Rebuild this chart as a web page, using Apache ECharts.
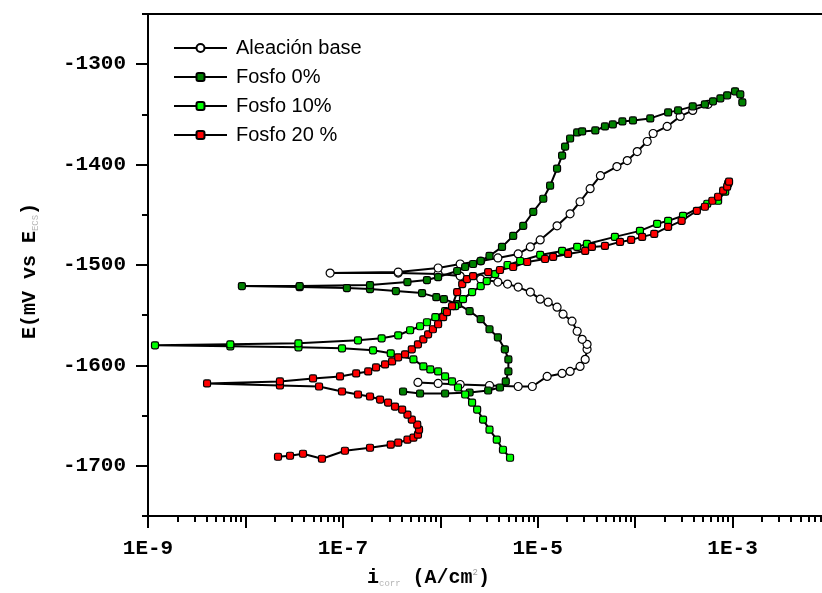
<!DOCTYPE html>
<html>
<head>
<meta charset="utf-8">
<script src="https://cdn.jsdelivr.net/npm/echarts@6/dist/echarts.min.js"></script>
<style>
  html, body { margin: 0; padding: 0; background: #fff; }
  #chart { width: 822px; height: 593px; }
</style>
</head>
<body>
<div id="chart"></div>
<script>
// Potentiodynamic polarization curves: current density i (A/cm2) vs potential E (mV)

const seriesNames = ['Aleación base', 'Fosfo 0%', 'Fosfo 10%', 'Fosfo 20 %'];

// Aleación base
const baseI = [5.9e-7, 9.5e-7, 1.6e-6, 3.2e-6, 6.3e-6, 8.8e-6, 1.25e-5, 1.78e-5, 2.15e-5, 2.72e-5,
  3.07e-5, 3.21e-5, 3.21e-5, 2.86e-5, 2.54e-5, 2.25e-5, 1.82e-5, 1.58e-5, 1.28e-5, 1.06e-5,
  8.4e-6, 6.3e-6, 4.9e-6, 3.9e-6, 2.6e-6, 1.6e-6, 9.5e-7, 3.7e-7, 7.4e-8, 3.7e-7,
  9.5e-7, 1.6e-6, 2.6e-6, 3.9e-6, 6.3e-6, 8.4e-6, 1.06e-5, 1.58e-5, 2.15e-5, 2.72e-5,
  3.45e-5, 4.4e-5, 6.5e-5, 8.3e-5, 1.05e-4, 1.33e-4, 1.53e-4, 2.13e-4, 2.9e-4, 3.9e-4, 5.6e-4];
const baseE = [-1617, -1618, -1619, -1620, -1621, -1621, -1611, -1608, -1606, -1601,
  -1594, -1584, -1579, -1574, -1566, -1556, -1549, -1542, -1537, -1534,
  -1527, -1522, -1519, -1517, -1514, -1511, -1509, -1508, -1508, -1507,
  -1503, -1499, -1496, -1493, -1489, -1482, -1475, -1461, -1449, -1437,
  -1424, -1411, -1402, -1396, -1387, -1377, -1369, -1362, -1352, -1346, -1340];

// Fosfo 0%
const p0I = [4.15e-7, 6.2e-7, 1.12e-6, 2.0e-6, 3.1e-6, 4.1e-6, 4.7e-6, 5.0e-6, 5.0e-6, 4.6e-6,
  3.9e-6, 3.2e-6, 2.6e-6, 2.0e-6, 1.52e-6, 1.09e-6, 9.1e-7, 6.5e-7, 3.5e-7, 1.9e-7,
  1.1e-7, 3.6e-8, 9.2e-9, 3.6e-8, 1.9e-7, 4.6e-7, 7.3e-7, 9.5e-7, 1.49e-6, 1.8e-6,
  2.17e-6, 2.6e-6, 3.2e-6, 4.3e-6, 5.6e-6, 7.1e-6, 9.0e-6, 1.14e-5, 1.34e-5, 1.58e-5,
  1.78e-5, 1.91e-5, 2.15e-5, 2.54e-5, 2.86e-5, 3.9e-5, 4.9e-5, 5.9e-5, 7.4e-5, 9.5e-5,
  1.43e-4, 2.18e-4, 2.76e-4, 3.9e-4, 5.2e-4, 6.3e-4, 7.5e-4, 8.8e-4, 1.06e-3, 1.2e-3, 1.26e-3];
const p0E = [-1626, -1628, -1628, -1627, -1625, -1622, -1616, -1606, -1594, -1584,
  -1572, -1564, -1554, -1546, -1539, -1534, -1532, -1528, -1526, -1524,
  -1523, -1522, -1521, -1521, -1520, -1517, -1515, -1512, -1506, -1502,
  -1499, -1496, -1491, -1482, -1471, -1461, -1447, -1434, -1421, -1404,
  -1391, -1382, -1374, -1368, -1367, -1366, -1362, -1360, -1357, -1356,
  -1354, -1348, -1346, -1342, -1340, -1337, -1334, -1331, -1327, -1330, -1338];

// Fosfo 10%
const p10I = [5.2e-6, 4.4e-6, 3.8e-6, 3.2e-6, 2.75e-6, 2.39e-6, 2.12e-6, 1.8e-6, 1.52e-6, 1.32e-6,
  1.12e-6, 9.5e-7, 7.9e-7, 6.7e-7, 5.3e-7, 3.1e-7, 2.04e-7, 9.8e-8, 3.5e-8, 7.0e-9,
  1.18e-9, 7.0e-9, 3.5e-8, 1.43e-7, 2.5e-7, 3.7e-7, 4.9e-7, 6.2e-7, 7.3e-7, 8.9e-7,
  1.12e-6, 1.42e-6, 1.71e-6, 2.12e-6, 2.6e-6, 3.0e-6, 3.66e-6, 4.9e-6, 6.6e-6, 1.06e-5,
  1.78e-5, 2.54e-5, 3.2e-5, 6.2e-5, 1.12e-4, 1.68e-4, 2.18e-4, 3.1e-4, 5.5e-4, 7.1e-4,
  8.4e-4, 9.0e-4];
const p10E = [-1692, -1684, -1674, -1664, -1654, -1644, -1637, -1629, -1622, -1616,
  -1611, -1606, -1604, -1601, -1594, -1588, -1585, -1583, -1582, -1581,
  -1580, -1579, -1578, -1575, -1573, -1570, -1565, -1561, -1557, -1552,
  -1546, -1541, -1534, -1527, -1521, -1516, -1509, -1500, -1496, -1490,
  -1486, -1482, -1479, -1472, -1466, -1459, -1456, -1451, -1439, -1436,
  -1427, -1419];

// Fosfo 20 %
const p20I = [2.16e-8, 2.87e-8, 3.9e-8, 6.1e-8, 1.05e-7, 1.9e-7, 3.1e-7, 3.7e-7, 4.6e-7, 5.3e-7,
  5.9e-7, 6.05e-7, 5.8e-7, 5.1e-7, 4.6e-7, 4.06e-7, 3.43e-7, 2.91e-7, 2.41e-7, 1.9e-7,
  1.43e-7, 9.8e-8, 5.7e-8, 2.26e-8, 4.04e-9, 2.26e-8, 4.94e-8, 9.35e-8, 1.37e-7, 1.82e-7,
  2.19e-7, 2.71e-7, 3.2e-7, 3.7e-7, 4.35e-7, 5.1e-7, 5.9e-7, 6.7e-7, 7.5e-7, 8.4e-7,
  9.5e-7, 1.07e-6, 1.17e-6, 1.32e-6, 1.49e-6, 1.68e-6, 1.88e-6, 2.17e-6, 3.1e-6, 4.1e-6,
  5.6e-6, 7.8e-6, 1.19e-5, 1.44e-5, 2.05e-5, 3.07e-5, 3.6e-5, 4.9e-5, 7.0e-5, 9.1e-5,
  1.18e-4, 1.57e-4, 2.18e-4, 3.0e-4, 4.3e-4, 5.2e-4, 6.2e-4, 7.1e-4, 8.0e-4, 8.8e-4, 9.2e-4];
const p20E = [-1691, -1690, -1688, -1693, -1685, -1682, -1679, -1677, -1674, -1672,
  -1669, -1664, -1659, -1654, -1649, -1644, -1641, -1637, -1634, -1631,
  -1629, -1626, -1621, -1620, -1618, -1616, -1613, -1611, -1608, -1606,
  -1602, -1599, -1596, -1592, -1589, -1584, -1579, -1574, -1569, -1564,
  -1559, -1552, -1547, -1541, -1527, -1519, -1514, -1511, -1507, -1505,
  -1502, -1497, -1494, -1492, -1489, -1486, -1482, -1481, -1477, -1475,
  -1472, -1469, -1462, -1456, -1446, -1442, -1436, -1432, -1426, -1422, -1417];

// Axis ticks and labels
const xLabelExponents = [-9, -7, -5, -3];
const xLabelTexts = ['1E-9', '1E-7', '1E-5', '1E-3'];
const yMajorTicks = [-1700, -1600, -1500, -1400, -1300];

// minor decade ticks (2..9 x 10^n), expressed as exponents
const xMinorTicks = [];
for (let n = -9; n <= -3; n++) {
  for (let k = 2; k <= 9; k++) xMinorTicks.push(n + Math.log10(k));
}

const zip = (xs, ys) => xs.map((v, i) => [v, ys[i]]);

const tickFont = { fontFamily: 'Liberation Mono', fontWeight: 'bold', fontSize: 21, color: '#000' };
const black2 = { color: '#000', width: 2 };

function curve(name, xs, ys, fill, symbol, size) {
  return {
    name, type: 'line', data: zip(xs, ys),
    xAxisIndex: 0, yAxisIndex: 0,
    symbol, symbolSize: size, showSymbol: true,
    lineStyle: { color: '#000', width: 2 },
    itemStyle: { color: fill, borderColor: '#000', borderWidth: 1.2 },
    emphasis: { disabled: true },
    silent: true
  };
}

const chart = echarts.init(document.getElementById('chart'), null, { renderer: 'canvas' });

chart.setOption({
  animation: false,
  backgroundColor: '#fff',
  grid: {
    left: 148, top: 14, right: -8, bottom: 77,
    outerBoundsMode: 'none', containLabel: false,
    show: true, borderColor: '#000', borderWidth: 2
  },
  legend: {
    data: seriesNames,
    orient: 'vertical', left: 173, top: 38, padding: 0,
    itemWidth: 53, itemHeight: 10, itemGap: 9,
    textStyle: { fontFamily: 'Liberation Sans', fontSize: 20, color: '#000', padding: [0, 0, 0, 4] },
    selectedMode: false
  },
  xAxis: [
    {
      type: 'log', logBase: 10, min: 1e-9, max: 1e-2, splitNumber: 7,
      position: 'bottom',
      axisLine: { lineStyle: black2 },
      axisTick: { length: 12, lineStyle: black2 },
      axisLabel: {
        margin: 22, ...tickFont,
        formatter: v => {
          const e = Math.round(Math.log10(v));
          const idx = xLabelExponents.indexOf(e);
          return idx >= 0 ? xLabelTexts[idx] : '';
        }
      },
      splitLine: { show: false }
    },
    {
      type: 'value', min: -9, max: -2, position: 'bottom',
      axisLine: { show: false },
      axisTick: { customValues: xMinorTicks, length: 6, lineStyle: black2 },
      axisLabel: { show: false },
      splitLine: { show: false }
    }
  ],
  yAxis: [
    {
      type: 'value', min: -1750, max: -1250, interval: 50,
      axisLine: { show: true, lineStyle: black2 },
      axisTick: { show: true, length: 6, lineStyle: black2 },
      axisLabel: { margin: 22, ...tickFont, formatter: v => (v % 100 === 0 ? String(v) : '') },
      splitLine: { show: false }
    },
    {
      type: 'value', min: -1750, max: -1250, position: 'left',
      axisLine: { show: false },
      axisTick: { show: true, customValues: yMajorTicks, length: 12, lineStyle: black2 },
      axisLabel: { show: false },
      splitLine: { show: false }
    }
  ],
  graphic: [
    {
      type: 'text', x: 30, y: 271, rotation: Math.PI / 2,
      style: {
        text: '{t|E(mV vs E}{s|ECS}{t|)}',
        align: 'center', verticalAlign: 'middle',
        rich: {
          t: { fontFamily: 'Liberation Mono', fontWeight: 'bold', fontSize: 20, fill: '#000' },
          s: { fontFamily: 'Liberation Mono', fontSize: 9, fill: '#b5b5b5', verticalAlign: 'bottom' }
        }
      }
    },
    {
      type: 'text', x: 367, y: 578,
      style: {
        text: '{t|i}{s|corr}{t| (A/cm}{p|2}{t|)}',
        align: 'left', verticalAlign: 'middle',
        rich: {
          t: { fontFamily: 'Liberation Mono', fontWeight: 'bold', fontSize: 20, fill: '#000' },
          s: { fontFamily: 'Liberation Mono', fontSize: 9, fill: '#b5b5b5', verticalAlign: 'bottom' },
          p: { fontFamily: 'Liberation Mono', fontSize: 9, fill: '#9a9a9a', verticalAlign: 'top' }
        }
      }
    }
  ],
  series: [
    curve(seriesNames[0], baseI, baseE, '#ffffff', 'circle', 8),
    curve(seriesNames[1], p0I, p0E, '#008000', 'roundRect', 7),
    curve(seriesNames[2], p10I, p10E, '#00ff00', 'roundRect', 7),
    curve(seriesNames[3], p20I, p20E, '#ff0000', 'roundRect', 7)
  ]
});
</script>
</body>
</html>
